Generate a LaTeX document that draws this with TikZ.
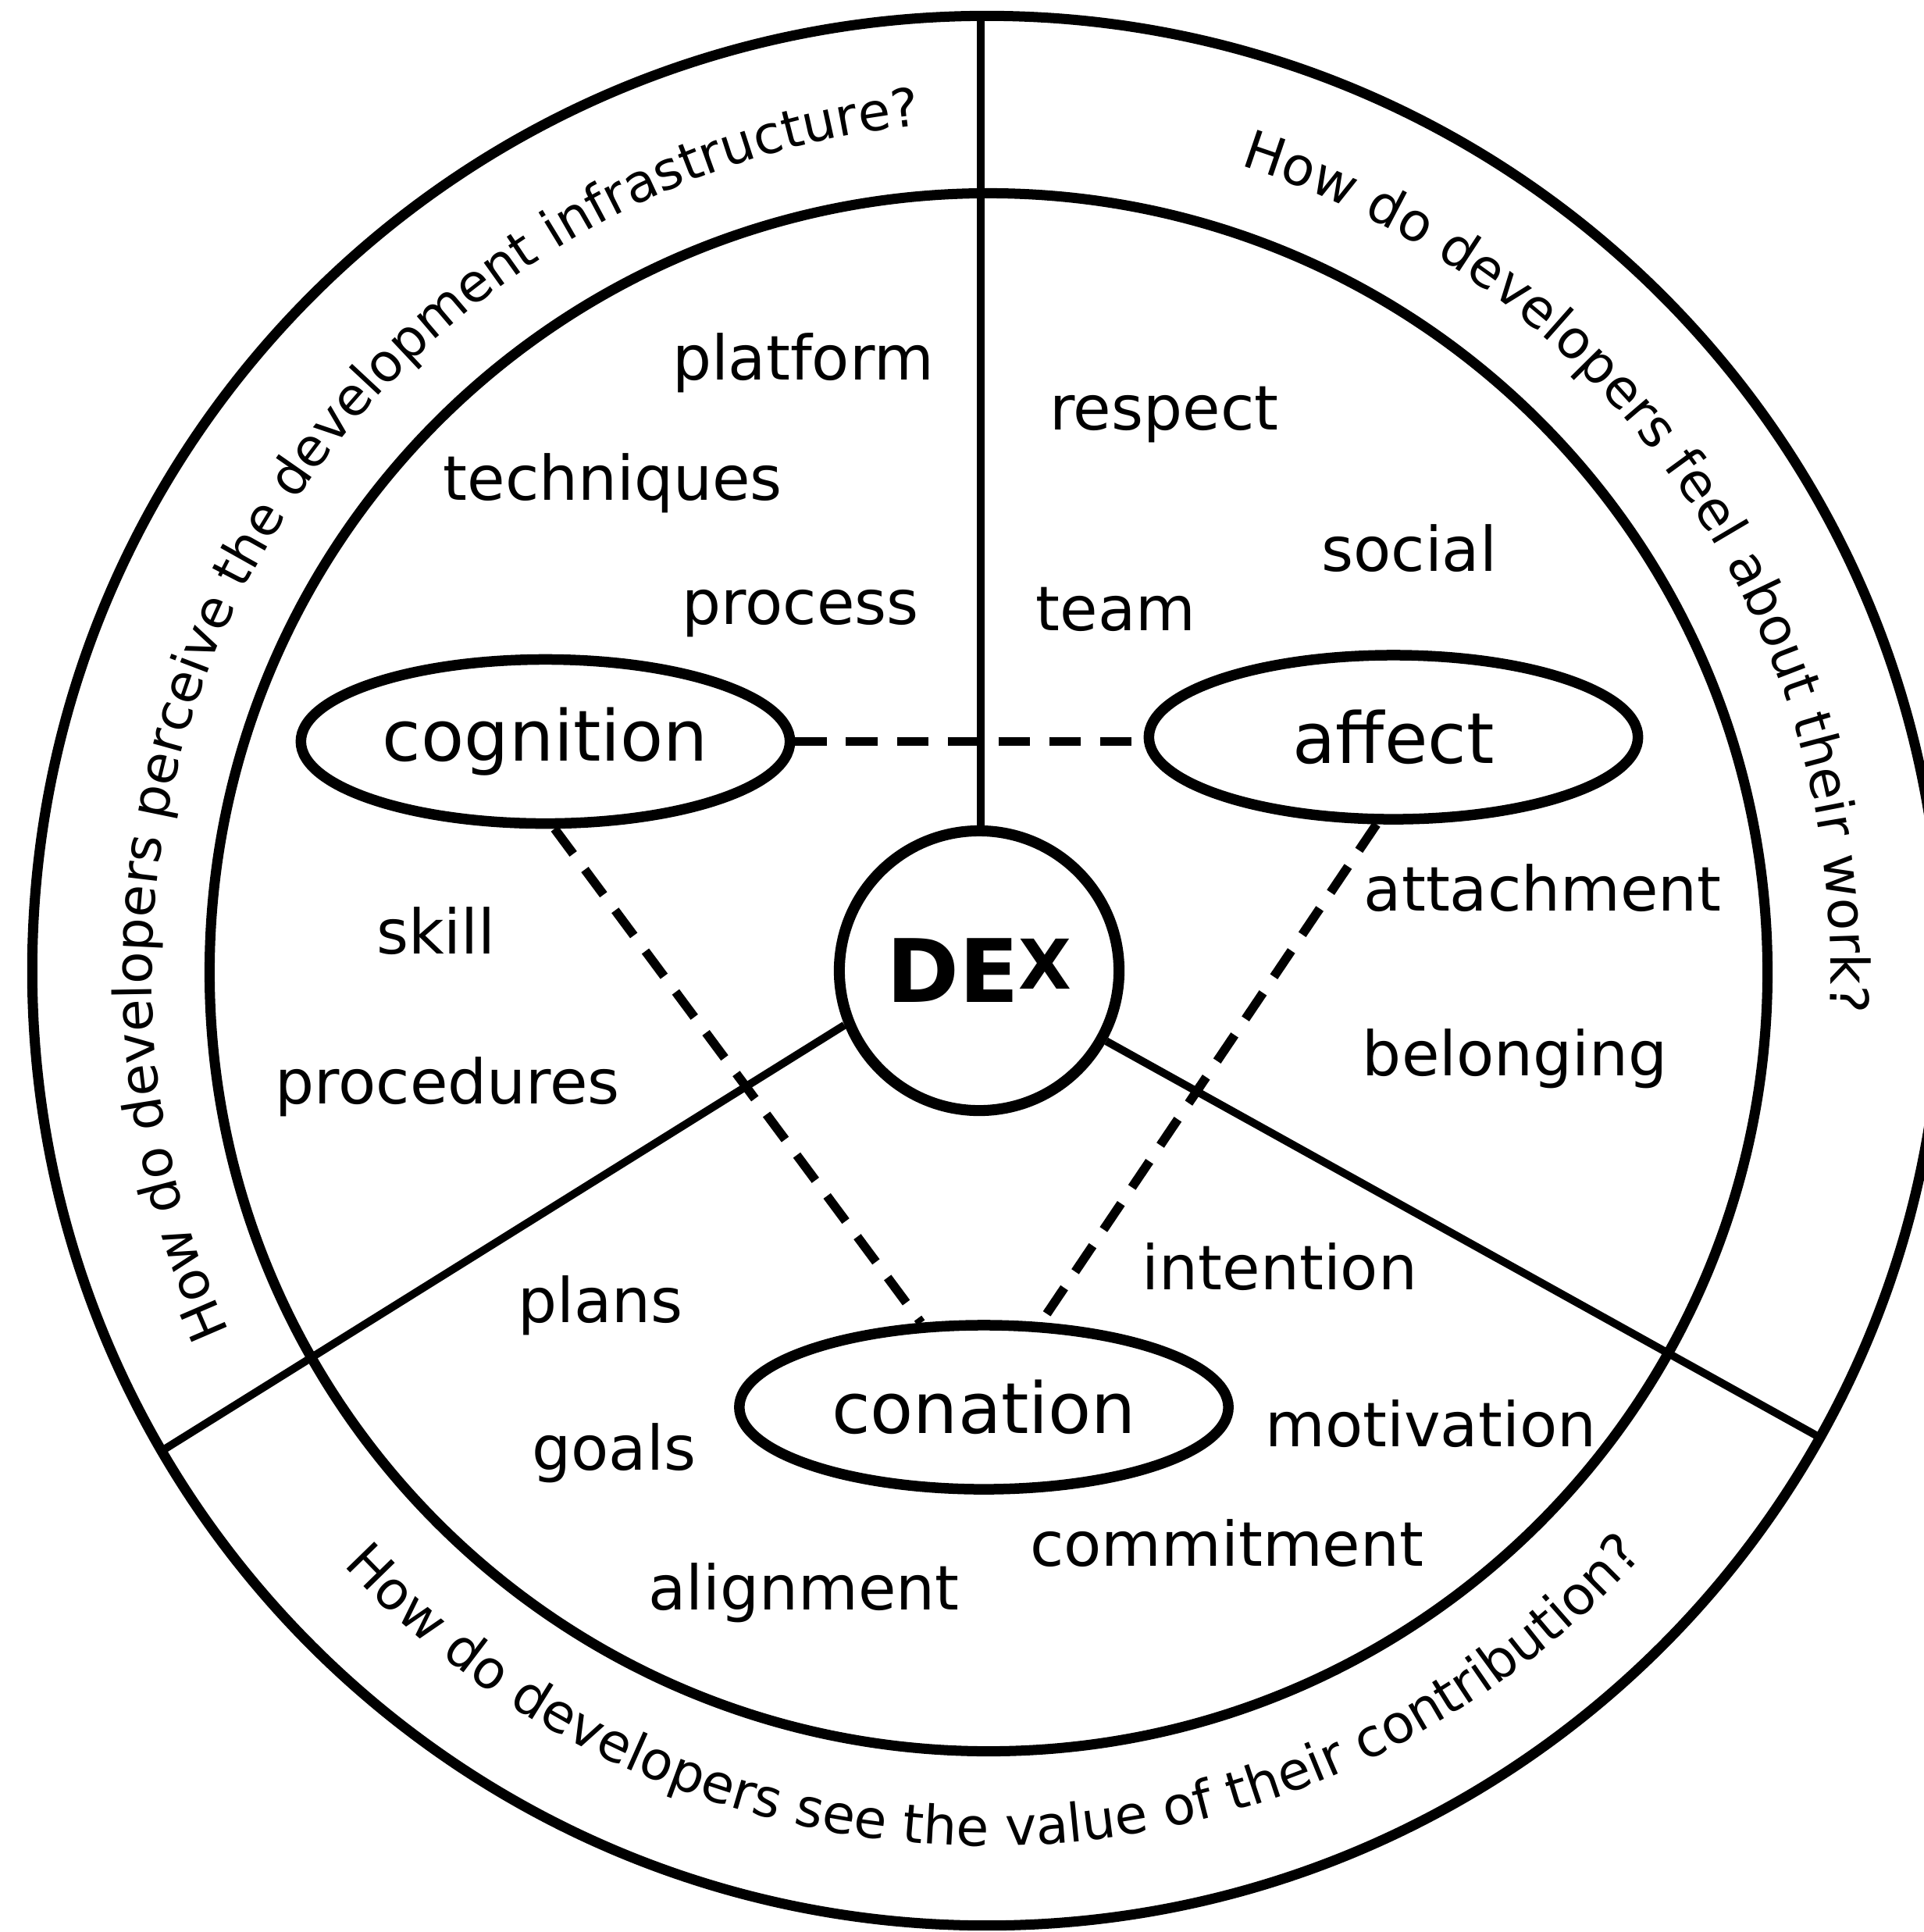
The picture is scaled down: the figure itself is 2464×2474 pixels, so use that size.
\documentclass[tikz,border=0pt]{standalone}
\usepackage{fontspec}
\setmainfont{DejaVu Sans}
\usetikzlibrary{shapes.geometric,decorations.text,calc}
\newcommand\wordsize{\fontsize{22.42pt}{27pt}\selectfont}
\newcommand\facetsize{\fontsize{25.65pt}{30pt}\selectfont}
\newcommand\dexsize{\fontsize{31.9pt}{36pt}\selectfont\bfseries}
\newcommand\xsize{\fontsize{25pt}{28pt}\selectfont\bfseries}
\newcommand\ringsize{\fontsize{19.35pt}{23pt}\selectfont}
\newcommand\ringsizeleft{\fontsize{19.2pt}{23pt}\selectfont}
\begin{document}
\begin{tikzpicture}[x=0.01cm,y=-0.01cm,
  ring/.style={line width=3.7pt},
  spoke/.style={line width=2.85pt},
  facet/.style={draw, ellipse, line width=3.84pt, minimum width=6.26cm, minimum height=2.10cm, inner sep=0pt, font=\facetsize},
  link/.style={line width=3.3pt, dash pattern=on 11.4pt off 7.1pt},
  word/.style={anchor=base, inner sep=0pt, font=\wordsize},
  core/.style={draw, circle, line width=4pt, minimum size=3.58cm, inner sep=0pt}
]
\useasboundingbox (0,0) rectangle (2464,2474);
\clip (0,0) rectangle (2464,2474);

\coordinate (oc) at (1264,1243);
\coordinate (ic) at (1266,1245);
\coordinate (lc) at (1290,1250);
\coordinate (bc) at (1266,1233);

\draw[ring] (oc) circle[radius=12.22cm];
\draw[ring] (ic) circle[radius=9.97cm];

\node[core] (dex) at (1254,1243) {\dexsize DE\raisebox{5pt}{\xsize X}};

\coordinate (top) at (1256,20);
\coordinate (lend) at (207,1858);
\coordinate (rend) at (2333,1842);
\draw[spoke] (top) -- (top |- dex.north);
\draw[spoke] (dex.202.8) -- (lend);
\draw[spoke] (dex.331.1) -- (rend);

\node[facet] (cognition) at (698.5,949.5) {cognition};
\node[facet] (affect) at (1784.5,944) {affect};
\node[facet] (conation) at (1260,1802) {conation};

\draw[link] (cognition.east) -- (cognition.east -| affect.west);
\draw[link] (cognition.276) -- (conation);
\draw[link] (affect.259) -- (conation);

\node[word] (platform) at (1028.5,486) {platform};
\node[word] (respect) at (1490.7,550.5) {respect};
\node[word] (techniques) at (784.8,640) {techniques};
\node[word] (social) at (1804.7,731) {social};
\node[word] (process) at (1025.4,799.8) {process};
\node[word] (team) at (1429.2,807.7) {team};
\node[word] (attachment) at (1975.8,1166) {attachment};
\node[word] (skill) at (558.4,1221) {skill};
\node[word] (belonging) at (1940.3,1377) {belonging};
\node[word] (procedures) at (573.4,1413.4) {procedures};
\node[word] (intention) at (1639,1651) {intention};
\node[word] (plans) at (769,1693) {plans};
\node[word] (goals) at (786.4,1882.5) {goals};
\node[word] (motivation) at (1832.3,1852.5) {motivation};
\node[word] (commitment) at (1571.2,2005.5) {commitment};
\node[word] (alignment) at (1029.3,2061) {alignment};

\path[decorate, decoration={text along path, text align=center,
  text={|\ringsizeleft|How do developers perceive the development infrastructure?}}]
  ($(lc)+(215.2:10.95cm)$) arc[start angle=215.2, end angle=85.2, radius=10.95cm];
\path[decorate, decoration={text along path, text align=center,
  text={|\ringsize|How do developers feel about their work?}}]
  ($(oc)+(84.85:10.80cm)$) arc[start angle=84.85, end angle=-15.15, radius=10.80cm];
\path[decorate, decoration={text along path, text align=center,
  text={|\ringsize|How do developers see the value of their contribution?}}]
  ($(bc)+(210.45:11.30cm)$) arc[start angle=210.45, end angle=330.45, radius=11.30cm];
\end{tikzpicture}
\end{document}
